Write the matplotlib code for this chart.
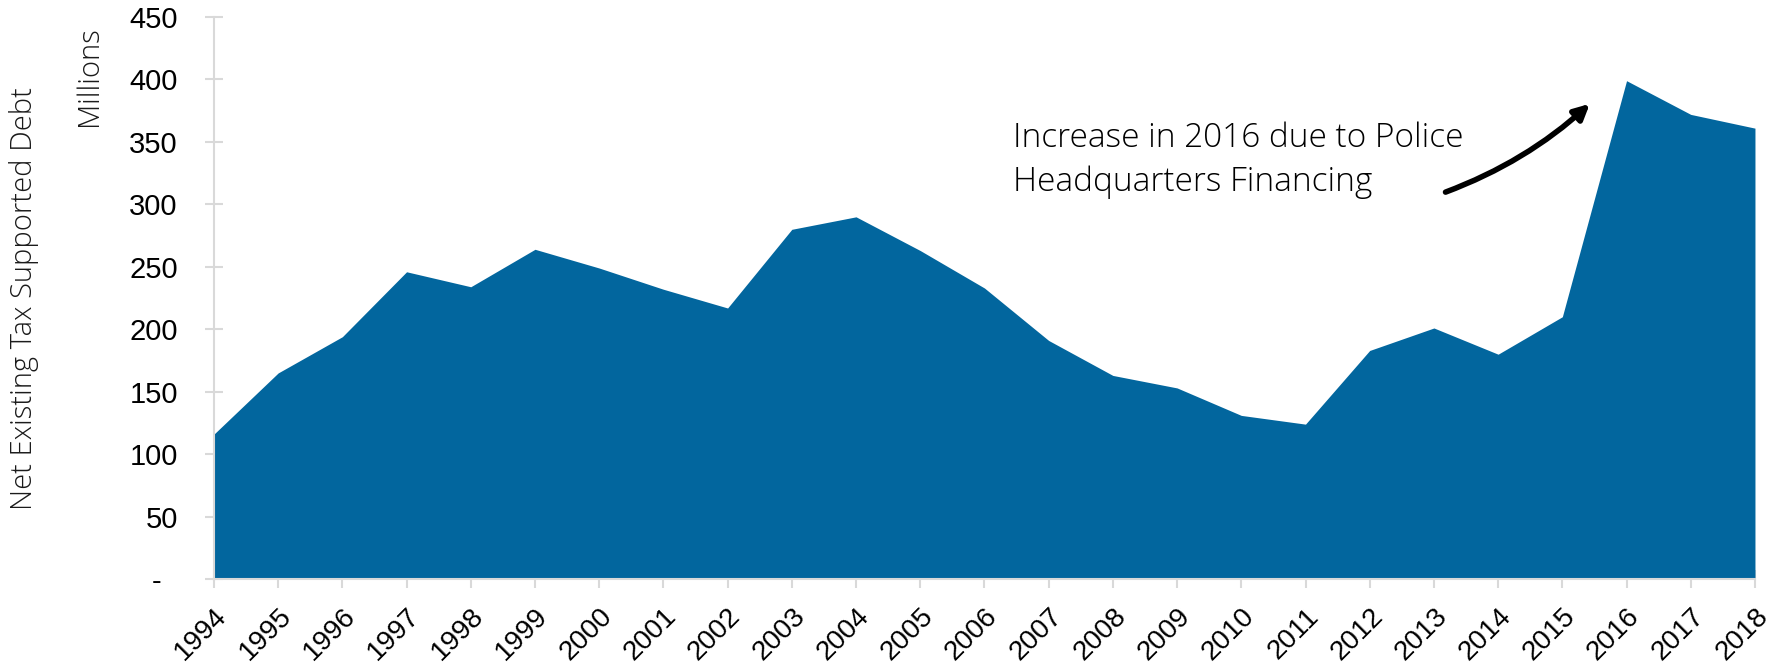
import numpy as np
import matplotlib
matplotlib.use("Agg")
import matplotlib.pyplot as plt

# Net existing tax supported debt, millions
years = list(range(1994, 2019))
debt = [116, 165, 194, 246, 234, 264, 249, 232, 217, 280, 290, 263, 233,
        191, 163, 153, 131, 124, 183, 201, 180, 210, 399, 372, 361]

y_ticks = [0, 50, 100, 150, 200, 250, 300, 350, 400, 450]
y_tick_labels = ["-  ", "50", "100", "150", "200", "250", "300", "350", "400", "450"]

note = "Increase in 2016 due to Police\nHeadquarters Financing"

fill_color = "#02669e"
axis_gray = "#d9d9d9"

fig = plt.figure(figsize=(17.77, 6.69), dpi=100)
ax = fig.add_axes([0.1204, 0.1345, 0.8672, 0.8401])

ax.fill_between(years, debt, 0, color=fill_color, linewidth=0)
ax.set_axisbelow(True)

ax.set_xlim(years[0], years[-1])
ax.set_ylim(0, 450)
ax.set_xticks(years)
ax.set_xticklabels([str(y) for y in years], rotation=45, ha="right",
                   rotation_mode="anchor", fontsize=20, family="Liberation Sans")
ax.set_yticks(y_ticks)
ax.set_yticklabels(y_tick_labels, fontsize=21, family="Liberation Sans")

for s in ["top", "right"]:
    ax.spines[s].set_visible(False)
for s in ["left", "bottom"]:
    ax.spines[s].set_color(axis_gray)
    ax.spines[s].set_linewidth(1.5)
ax.tick_params(axis="both", direction="inout", color=axis_gray, width=1.5, length=13)
ax.tick_params(axis="y", pad=19.5)
ax.tick_params(axis="x", pad=11)

fig.text(0.0135, 0.554, "Net Existing Tax Supported Debt", rotation=90,
         ha="center", va="center", fontsize=21, family="Open Sans",
         fontweight="light", color="#1a1a1a")
fig.text(0.050, 0.886, "Millions", rotation=90, ha="center", va="center",
         fontsize=21, family="Open Sans", fontweight="light", color="#1a1a1a")

ax.text(2006.45, 366, note, ha="left", va="top", fontsize=24,
        family="Open Sans", fontweight="light", linespacing=1.4)
ax.annotate("", xy=(2015.46, 382), xytext=(2013.14, 309),
            arrowprops=dict(arrowstyle="-|>,head_length=0.9,head_width=0.45",
                            connectionstyle="arc3,rad=0.1",
                            color="black", lw=4))

fig.savefig("out.png", dpi=100)
